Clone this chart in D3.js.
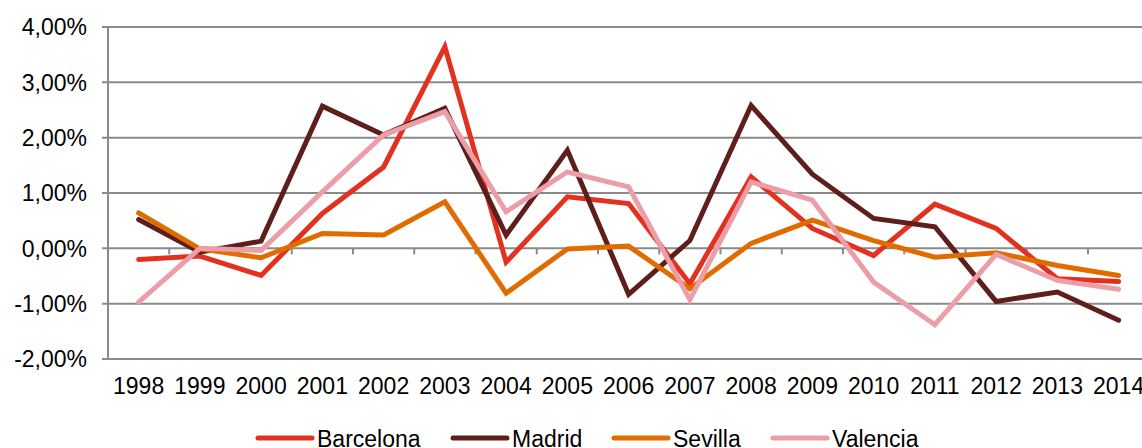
<!DOCTYPE html>
<html><head><meta charset="utf-8">
<script src="https://cdn.jsdelivr.net/npm/d3@7"></script>
<style>html,body{margin:0;padding:0;background:#fff;overflow:hidden}svg{display:block}</style>
</head><body>
<svg id="chart" width="1142" height="448"></svg>
<script>
const years = ["1998","1999","2000","2001","2002","2003","2004","2005","2006","2007","2008","2009","2010","2011","2012","2013","2014"];
const barcelona = [-0.20,-0.14,-0.49,0.63,1.47,3.64,-0.25,0.93,0.81,-0.64,1.29,0.36,-0.13,0.80,0.36,-0.55,-0.60];
const madrid    = [0.52,-0.07,0.13,2.57,2.05,2.53,0.24,1.77,-0.83,0.14,2.58,1.34,0.54,0.39,-0.96,-0.79,-1.30];
const sevilla   = [0.64,-0.01,-0.17,0.27,0.24,0.84,-0.81,-0.01,0.04,-0.73,0.09,0.51,0.14,-0.16,-0.08,-0.31,-0.49];
const valencia  = [-0.97,0.00,-0.04,1.02,2.05,2.47,0.66,1.38,1.11,-0.93,1.20,0.87,-0.61,-1.38,-0.11,-0.58,-0.74];
const yTicks = [-2,-1,0,1,2,3,4];
const seriesNames = ["Barcelona","Madrid","Sevilla","Valencia"];
const seriesColors = ["#E2321F","#5E1F1C","#E06C00","#EB9EA8"];
const seriesValues = [barcelona, madrid, sevilla, valencia];

const svg = d3.select("#chart");
const plotLeft = 108, plotTop = 27, plotBottom = 359;
const x = d3.scaleBand().domain(years).range([plotLeft, plotLeft + 61.25*17]);
const cx = d => x(d) + x.bandwidth()/2;
const y = d3.scaleLinear().domain([-2,4]).range([plotBottom, plotTop]);
const fmt = v => v.toFixed(2).replace(".", ",") + "%";
const gridColor = "#8a8a8a";
const font = "'Liberation Sans', Arial, sans-serif";

svg.append("g").selectAll("line").data(yTicks).join("line")
  .attr("x1", plotLeft - 6).attr("x2", 1142)
  .attr("y1", d => y(d)).attr("y2", d => y(d))
  .attr("stroke", gridColor).attr("stroke-width", 2);

svg.append("line").attr("x1", plotLeft).attr("x2", plotLeft).attr("y1", y(4)).attr("y2", y(-2))
  .attr("stroke", gridColor).attr("stroke-width", 2);

svg.append("g").selectAll("line").data(years.slice(1)).join("line")
  .attr("x1", d => x(d)).attr("x2", d => x(d))
  .attr("y1", y(0)).attr("y2", y(0) + 6)
  .attr("stroke", gridColor).attr("stroke-width", 2);

svg.append("g").selectAll("text").data(yTicks).join("text")
  .attr("x", 87).attr("y", d => y(d)).attr("dy", "0.36em")
  .attr("text-anchor", "end").attr("font-family", font).attr("font-size", 23)
  .attr("fill", "#000").text(fmt);

svg.append("g").selectAll("text").data(years).join("text")
  .attr("x", d => cx(d)).attr("y", 394)
  .attr("text-anchor", "middle").attr("font-family", font).attr("font-size", 23)
  .attr("fill", "#000").text(d => d);

const line = d3.line().x((d,i) => cx(years[i])).y(d => y(d));
seriesValues.forEach((vals, k) => {
  svg.append("path").datum(vals).attr("d", line)
    .attr("fill", "none").attr("stroke", seriesColors[k])
    .attr("stroke-width", 5).attr("stroke-linejoin", "miter").attr("stroke-linecap", "round");
});

const legendX = [258, 453, 614, 773];
const lg = svg.append("g").selectAll("g").data(seriesNames).join("g")
  .attr("transform", (d,i) => `translate(${legendX[i]},438)`);
lg.append("line").attr("x1", 0).attr("x2", 54).attr("y1", 0).attr("y2", 0)
  .attr("stroke", (d,i) => seriesColors[i]).attr("stroke-width", 5).attr("stroke-linecap", "round");
lg.append("text").attr("x", 59).attr("y", 8.5).attr("font-family", font).attr("font-size", 23)
  .attr("fill", "#000").text(d => d);
</script>
</body></html>
